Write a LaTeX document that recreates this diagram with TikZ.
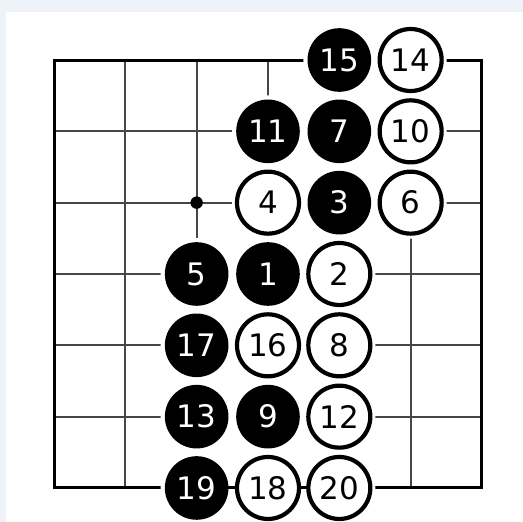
\documentclass[tikz,border=0pt]{standalone}
\usepackage{fontspec}
\setmainfont{DejaVu Sans}
\definecolor{bgblue}{RGB}{238,242,249}
\definecolor{gridgray}{RGB}{70,70,70}
\tikzset{
  gridline/.style={draw=gridgray, line width=2pt},
  border/.style={draw=black, line width=3pt},
  halo/.style={fill=white},
  stonefont/.style={font=\fontsize{31}{31}\selectfont},
  bstone/.style={circle, fill=black, text=white, minimum size=63.6pt, inner sep=0pt, stonefont},
  wstone/.style={circle, draw=black, fill=white, text=black, line width=4.2pt, minimum size=62pt, inner sep=0pt, stonefont},
}
\begin{document}
\begin{tikzpicture}[x=1pt,y=-1pt]
\useasboundingbox (0,0) rectangle (523,522);
\fill[bgblue] (0,0) rectangle (523,522);
\fill[white] (6,12) rectangle (523,522);
\begin{scope}[shift={(54,60)}, x=71.33pt, y=-71.33pt]
  % grid
  \foreach \i in {1,...,5} {
    \draw[gridline] (\i,0) -- (\i,6);
    \draw[gridline] (0,\i) -- (6,\i);
  }
  \draw[border] (0,0) rectangle (6,6);
  \coordinate (hoshi) at (2,2);
  \fill (hoshi) circle (6.2pt);
  % stone positions
  \coordinate (p15) at (4,0); \coordinate (p14) at (5,0);
  \coordinate (p11) at (3,1); \coordinate (p7) at (4,1); \coordinate (p10) at (5,1);
  \coordinate (p4) at (3,2); \coordinate (p3) at (4,2); \coordinate (p6) at (5,2);
  \coordinate (p5) at (2,3); \coordinate (p1) at (3,3); \coordinate (p2) at (4,3);
  \coordinate (p17) at (2,4); \coordinate (p16) at (3,4); \coordinate (p8) at (4,4);
  \coordinate (p13) at (2,5); \coordinate (p9) at (3,5); \coordinate (p12) at (4,5);
  \coordinate (p19) at (2,6); \coordinate (p18) at (3,6); \coordinate (p20) at (4,6);
  % halos
  \foreach \n in {15,14,11,7,10,4,3,6,5,1,2,17,16,8,13,9,12,19,18,20}
    \fill[halo] (p\n) circle (36pt);
  % bottom edge visible between stones
  \draw[border] (p19) -- (p18) -- (p20);
  % stones
  \node[bstone] (s15) at (p15) {15};
  \node[wstone] (s14) at (p14) {14};
  \node[bstone] (s11) at (p11) {11};
  \node[bstone] (s7) at (p7) {7};
  \node[wstone] (s10) at (p10) {10};
  \node[wstone] (s4) at (p4) {4};
  \node[bstone] (s3) at (p3) {3};
  \node[wstone] (s6) at (p6) {6};
  \node[bstone] (s5) at (p5) {5};
  \node[bstone] (s1) at (p1) {1};
  \node[wstone] (s2) at (p2) {2};
  \node[bstone] (s17) at (p17) {17};
  \node[wstone] (s16) at (p16) {16};
  \node[wstone] (s8) at (p8) {8};
  \node[bstone] (s13) at (p13) {13};
  \node[bstone] (s9) at (p9) {9};
  \node[wstone] (s12) at (p12) {12};
  \node[bstone] (s19) at (p19) {19};
  \node[wstone] (s18) at (p18) {18};
  \node[wstone] (s20) at (p20) {20};
\end{scope}
\end{tikzpicture}
\end{document}
